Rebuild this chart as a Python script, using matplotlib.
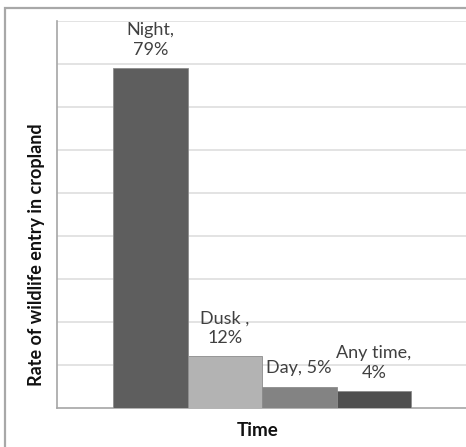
import matplotlib.pyplot as plt
from matplotlib.patches import Rectangle

plt.rcParams['font.family'] = ['Lato', 'DejaVu Sans']

categories = ['Night', 'Dusk', 'Day', 'Any time']
rates = [79, 12, 5, 4]
labels = ['Night,\n79%', 'Dusk ,\n12%', 'Day, 5%', 'Any time,\n4%']
colors = ['#5e5e5e', '#b3b3b3', '#838383', '#4f4f4f']

W, H = 466, 447
fig = plt.figure(figsize=(W / 100, H / 100), dpi=100)

# outer chart frame (runs off the right and bottom edge)
fig.patches.append(Rectangle((5 / W, -0.1), 1.2, (H - 8) / H + 0.1,
                             transform=fig.transFigure, fill=False,
                             edgecolor='#a8a8a8', linewidth=1.6))

ax = fig.add_axes([57 / W, (H - 408) / H, (W - 57) / W, (408 - 21) / H])
x = list(range(len(categories)))
bars = ax.bar(x, rates, width=1.0, color=colors, edgecolor='#8c8c8c',
              linewidth=0.6, zorder=3)

unit = 74.5
ax.set_xlim(-0.5 - 56 / unit, -0.5 - 56 / unit + (W - 57) / unit)
ax.set_ylim(0, 90)
ax.set_yticks(range(10, 91, 10))
ax.yaxis.grid(True, color='#e3e3e3', linewidth=1.4, zorder=0)
ax.set_xticks([])
ax.tick_params(left=False, labelleft=False)
for s in ['top', 'right']:
    ax.spines[s].set_visible(False)
for s in ['left', 'bottom']:
    ax.spines[s].set_color('#a6a6a6')
    ax.spines[s].set_linewidth(1.2)

for xi, r, lab in zip(x, rates, labels):
    ax.annotate(lab, (xi, r), xytext=(0, 13), textcoords='offset pixels',
                ha='center', va='baseline', multialignment='center',
                fontsize=13, color='#404040', linespacing=1.3)

fig.text(37 / W, 1 - 255 / H, 'Rate of wildlife entry in cropland',
         rotation=90, ha='center', va='center', fontsize=13,
         fontweight='bold', color='#111111')
fig.text(258 / W, 1 - 430 / H, 'Time', ha='center', va='center',
         fontsize=13.5, fontweight='bold', color='#111111')

fig.savefig('out.png', dpi=100)
